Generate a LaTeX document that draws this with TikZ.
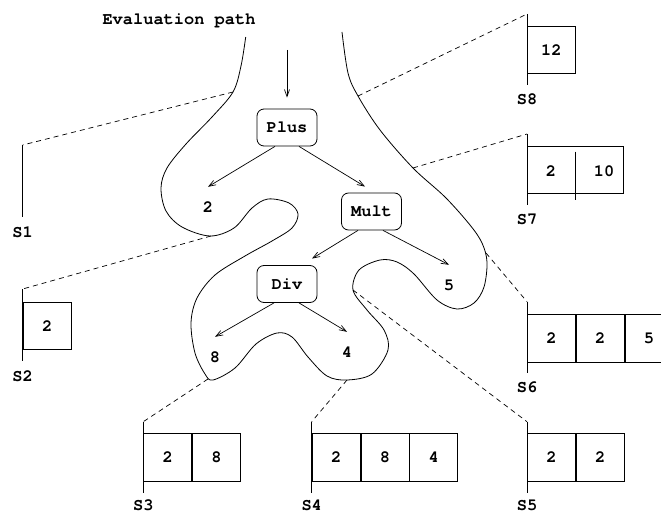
\documentclass[tikz,border=0pt]{standalone}
\usepackage{fontspec}
\setmonofont{TeX Gyre Cursor}
\usetikzlibrary{arrows.meta}
\begin{document}
\begin{tikzpicture}[x=1pt,y=-1pt,
  txt/.style={font=\ttfamily\bfseries\fontsize{17}{20}\selectfont},
  op/.style={txt, draw, rounded corners=7pt, minimum width=60pt, minimum height=37pt, inner sep=0pt, line width=0.8pt},
  leaf/.style={txt, minimum height=40pt, inner sep=0pt},
  cell/.style={txt, draw, minimum width=48pt, minimum height=47.6pt, inner sep=0pt, line width=0.8pt},
  edge/.style={-{Straight Barb[length=7pt,width=5pt]}, line width=0.7pt},
  link/.style={dash pattern=on 5pt off 4pt, line width=0.7pt},
  base/.style={line width=1pt},
  tag/.style={txt}
]
\clip (0,0) rectangle (661,513);

% expression tree
\node[txt] (title) at (179,21) {Evaluation path};
\coordinate (entry) at (287,50);
\node[op] (plus) at (287,127.5) {Plus};
\node[op] (mult) at (371.5,211.5) {Mult};
\node[op] (div) at (287,284) {Div};
\node[leaf] (two) at (208,207) {2};
\node[leaf] (five) at (449,285) {5};
\node[leaf] (eight) at (215,357) {8};
\node[leaf] (four) at (347,352) {4};

\draw[edge] (entry) -- ([yshift=11pt]plus.north);
\draw[edge] ([xshift=-12pt]plus.south) -- (two.north);
\draw[edge] ([xshift=12pt]plus.south) -- ([xshift=-6.5pt,yshift=6pt]mult.north);
\draw[edge] ([xshift=-13.5pt]mult.south) -- ([xshift=25pt,yshift=6.5pt]div.north);
\draw[edge] ([xshift=11.5pt]mult.south) -- (five.north);
\draw[edge] ([xshift=-13pt]div.south) -- (eight.north);
\draw[edge] ([xshift=12pt]div.south) -- (four.north);

% the evaluation path winding round the tree
\draw[line width=0.8pt] plot[smooth, tension=0.55] coordinates {
  (245.7,37) (241,66) (233,92) (212,117) (186,144) (167,168) (161,188)
  (166,211) (182,227) (210,236) (234,228) (252,208) (268,199) (289,203)
  (298,214) (292,228) (272,241) (245,256) (215,275) (197,298) (191,323)
  (195,353) (205,374) (213,380) (235,368) (256,344) (277,333) (292,337)
  (308,357) (327,376) (347,380) (372,374) (388,350) (384,330) (367,310)
  (353,290) (359,270) (380,260) (397,262) (414,274) (437,300) (457,309)
  (474,303) (484,287) (487,262) (482,243) (470,225) (445,197) (413,168)
  (380,130) (358,96) (348,73) (342,32)};

\coordinate (c1) at (233,92);
\coordinate (c2) at (211,236);
\coordinate (c3) at (208,379);
\coordinate (c4) at (347,380);
\coordinate (c5) at (353,290);
\coordinate (c6) at (486,253);
\coordinate (c7) at (413,168);
\coordinate (c8) at (358,96);

% stack snapshots
\coordinate (s1t) at (22.7,145);  \coordinate (s1b) at (22.7,217);
\coordinate (s2t) at (22.7,289);  \coordinate (s2b) at (22.7,361);
\coordinate (s3t) at (143.3,421.7); \coordinate (s3b) at (143.3,493.3);
\coordinate (s4t) at (311.7,421.7); \coordinate (s4b) at (311.7,493.3);
\coordinate (s5t) at (527,421.7); \coordinate (s5b) at (527,493.3);
\coordinate (s6t) at (527,301.7); \coordinate (s6b) at (527,373.3);
\coordinate (s7t) at (527,134);   \coordinate (s7b) at (527,205);
\coordinate (s8t) at (527,14);    \coordinate (s8b) at (527,85);

\foreach \i in {1,...,8} {
  \draw[base] (s\i t) -- (s\i b);
  \draw[link] (c\i) -- (s\i t);
}

\node[tag] (l1) at (22.7,232) {S1};
\node[tag] (l2) at (22.7,376) {S2};
\node[tag] (l3) at (143.3,505.5) {S3};
\node[tag] (l4) at (311.7,505.5) {S4};
\node[tag] (l5) at (527,505.5) {S5};
\node[tag] (l6) at (527,387) {S6};
\node[tag] (l7) at (527,219) {S7};
\node[tag] (l8) at (527,99) {S8};

\node[cell, anchor=north west] (s2a) at (22.7,301.7) {2};

\node[cell, anchor=north west] (s3a) at (143.3,433.3) {2};
\node[cell, anchor=west] (s3b') at (s3a.east) {8};

\node[cell, anchor=north west] (s4a) at (311.7,433.3) {2};
\node[cell, anchor=west] (s4b') at (s4a.east) {8};
\node[cell, anchor=west] (s4c) at (s4b'.east) {4};

\node[cell, anchor=north west] (s5a) at (527,433.3) {2};
\node[cell, anchor=west] (s5b') at (s5a.east) {2};

\node[cell, anchor=north west] (s6a) at (527,314) {2};
\node[cell, anchor=west] (s6b') at (s6a.east) {2};
\node[cell, anchor=west] (s6c) at (s6b'.east) {5};

\node[cell, minimum width=96pt, anchor=north west] (s7box) at (527,145.7) {};
\draw[line width=0.8pt] ([yshift=-6pt]s7box.north) -- ([yshift=-6pt]s7box.south);
\node[txt] (s7x) at (551,171) {2};
\node[txt] (s7y) at (604,171) {10};

\node[cell, anchor=north west] (s8a) at (527,25.7) {12};
\end{tikzpicture}
\end{document}
